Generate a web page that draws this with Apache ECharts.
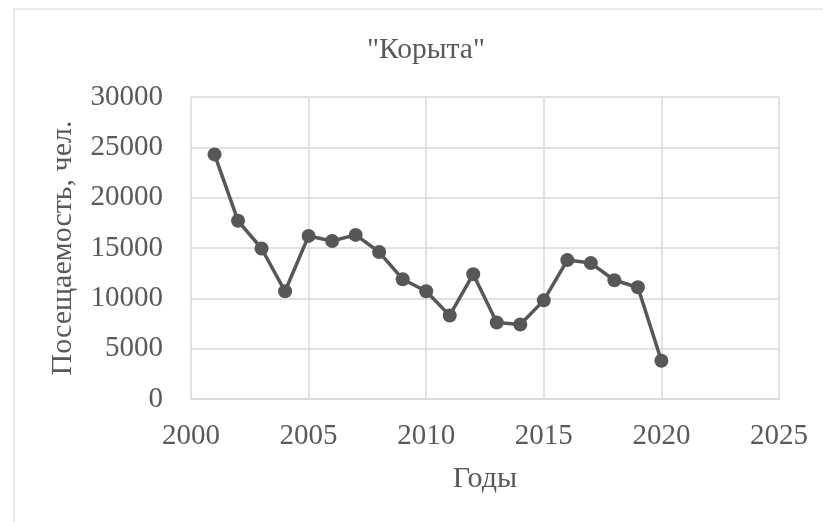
<!DOCTYPE html>
<html>
<head>
<meta charset="utf-8">
<script src="https://cdn.jsdelivr.net/npm/echarts@6/dist/echarts.min.js"></script>
<style>
  html, body { margin: 0; padding: 0; background: #ffffff; }
  #chart { width: 823px; height: 522px; }
</style>
</head>
<body>
<div id="chart"></div>
<script>
// Annual attendance at "Корыта"
const years = [2001, 2002, 2003, 2004, 2005, 2006, 2007, 2008, 2009, 2010,
               2011, 2012, 2013, 2014, 2015, 2016, 2017, 2018, 2019, 2020];
const visitors = [24300, 17700, 14950, 10700, 16200, 15700, 16300, 14600, 11900, 10700,
                  8300, 12400, 7600, 7400, 9800, 13800, 13500, 11800, 11100, 3800];

const titleText = '"Корыта"';
const xAxisName = 'Годы';
const yAxisName = 'Посещаемость, чел.';

const points = years.map((y, i) => [y, visitors[i]]);

const font = '"Liberation Serif", "Times New Roman", serif';
const textColor = '#595959';
const gridColor = '#d9d9d9';
const plain = v => String(v);

const chart = echarts.init(document.getElementById('chart'), null, { renderer: 'canvas' });
chart.setOption({
  animation: false,
  backgroundColor: '#ffffff',
  graphic: [{
    type: 'rect',
    shape: { x: 14, y: 9, width: 830, height: 530 },
    style: { fill: 'none', stroke: '#e3e3e3', lineWidth: 1.5 },
    silent: true,
    z: -10
  }],
  title: {
    text: titleText,
    left: 367,
    top: 35,
    padding: 0,
    textStyle: { fontFamily: font, fontSize: 29.5, fontWeight: 'normal', color: textColor }
  },
  grid: { left: 191, right: 44, top: 97, bottom: 123 },
  xAxis: {
    type: 'value',
    min: 2000,
    max: 2025,
    interval: 5,
    name: xAxisName,
    nameLocation: 'middle',
    nameGap: 65,
    nameTextStyle: { fontFamily: font, fontSize: 30, color: textColor },
    axisLine: { show: true, lineStyle: { color: gridColor, width: 1.5 } },
    axisTick: { show: false },
    axisLabel: { fontFamily: font, fontSize: 29, color: textColor, margin: 23, formatter: plain },
    splitLine: { show: true, lineStyle: { color: gridColor, width: 1.5 } }
  },
  yAxis: {
    type: 'value',
    min: 0,
    max: 30000,
    interval: 5000,
    name: yAxisName,
    nameLocation: 'middle',
    nameGap: 113,
    nameTextStyle: { fontFamily: font, fontSize: 30, color: textColor },
    axisLine: { show: false },
    axisTick: { show: false },
    axisLabel: { fontFamily: font, fontSize: 29, color: textColor, margin: 28, formatter: plain },
    splitLine: { show: true, lineStyle: { color: gridColor, width: 1.5 } }
  },
  series: [{
    type: 'line',
    data: points,
    symbol: 'circle',
    symbolSize: 14,
    lineStyle: { color: '#575757', width: 3.5 },
    itemStyle: { color: '#575757' }
  }]
});
</script>
</body>
</html>
